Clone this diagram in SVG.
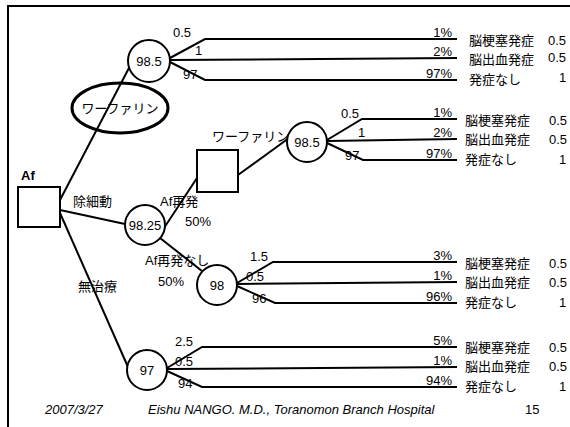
<svg xmlns="http://www.w3.org/2000/svg" width="570" height="427" viewBox="0 0 570 427">
<style>
.ln{stroke:#000;stroke-width:2;fill:none}
.nd{stroke:#000;stroke-width:2;fill:#fff}
.t{font-family:"Liberation Sans","Noto Sans CJK JP",sans-serif;font-size:13px;fill:#000}
.j{font-family:"Noto Sans CJK JP",sans-serif;font-size:13px;fill:#000}
.pc{text-anchor:end}
.ft{font-family:"Liberation Sans",sans-serif;font-style:italic;font-size:13px;fill:#000}
</style>
<rect width="570" height="427" fill="#fff"/>
<path d="M8,430 V6 H575" class="ln" stroke-width="2"/>
<g id="connectors">
<line class="ln" x1="60" y1="200" x2="130" y2="66"/>
<line class="ln" x1="60" y1="210" x2="125" y2="224"/>
<line class="ln" x1="60" y1="213" x2="128" y2="367"/>
<polyline class="ln" points="170,58 205,39 457,39"/>
<polyline class="ln" points="170,60 457,58"/>
<polyline class="ln" points="170,62 205,80 457,80"/>
<line class="ln" x1="164" y1="228" x2="197" y2="178"/>
<line class="ln" x1="238" y1="175" x2="289" y2="138"/>
<polyline class="ln" points="327,140 362,119 457,119"/>
<polyline class="ln" points="327,141 457,139"/>
<polyline class="ln" points="327,143 363,160 457,160"/>
<line class="ln" x1="160" y1="238" x2="202" y2="271"/>
<polyline class="ln" points="237,283 273,262 457,262"/>
<polyline class="ln" points="237,284 457,282"/>
<polyline class="ln" points="237,286 275,303 457,303"/>
<polyline class="ln" points="167,368 202,347 457,347"/>
<polyline class="ln" points="167,369 457,367"/>
<polyline class="ln" points="167,371 202,387 457,387"/>
</g>
<g id="af">
<rect class="nd" x="18" y="187" width="42" height="40"/>
<text class="t" x="21" y="180" font-weight="bold">Af</text>
</g>
<g id="warfarin-label">
<ellipse cx="120" cy="108" rx="48" ry="25" fill="none" stroke="#000" stroke-width="3"/>
<text class="j" x="120" y="113" text-anchor="middle" font-size="14">ワーファリン</text>
</g>
<g id="n1">
<circle class="nd" cx="149" cy="61" r="21"/>
<text class="t" x="149" y="66" text-anchor="middle">98.5</text>
</g>
<g id="n2">
<circle class="nd" cx="145" cy="225" r="20"/>
<text class="t" x="145" y="230" text-anchor="middle">98.25</text>
</g>
<g id="n3">
<rect class="nd" x="197" y="150" width="41" height="42"/>
</g>
<g id="n4">
<circle class="nd" cx="307" cy="142" r="20"/>
<text class="t" x="307" y="147" text-anchor="middle">98.5</text>
</g>
<g id="n5">
<circle class="nd" cx="217" cy="285" r="20"/>
<text class="t" x="217" y="290" text-anchor="middle">98</text>
</g>
<g id="n6">
<circle class="nd" cx="147" cy="370" r="20"/>
<text class="t" x="147" y="375" text-anchor="middle">97</text>
</g>
<g id="labels">
<text class="j" x="73" y="206">除細動</text>
<text class="j" x="78" y="291">無治療</text>
<text class="j" x="212" y="141">ワーファリン</text>
<text class="t" x="160" y="206">Af再発</text>
<text class="t" x="185" y="226">50%</text>
<text class="t" x="145" y="265">Af再発なし</text>
<text class="t" x="158" y="286">50%</text>
<text class="t" x="173" y="37">0.5</text>
<text class="t" x="195" y="55">1</text>
<text class="t" x="183" y="79">97</text>
<text class="t" x="341" y="118">0.5</text>
<text class="t" x="358" y="137">1</text>
<text class="t" x="345" y="160">97</text>
<text class="t" x="250" y="261">1.5</text>
<text class="t" x="246" y="281">0.5</text>
<text class="t" x="252" y="303">96</text>
<text class="t" x="175" y="346">2.5</text>
<text class="t" x="175" y="366">0.5</text>
<text class="t" x="178" y="388">94</text>
</g>
<g id="pcts">
<text class="t pc" x="452" y="37">1%</text>
<text class="t pc" x="452" y="56">2%</text>
<text class="t pc" x="452" y="78">97%</text>
<text class="t pc" x="452" y="117">1%</text>
<text class="t pc" x="452" y="137">2%</text>
<text class="t pc" x="452" y="158">97%</text>
<text class="t pc" x="452" y="260">3%</text>
<text class="t pc" x="452" y="280">1%</text>
<text class="t pc" x="452" y="301">96%</text>
<text class="t pc" x="452" y="345">5%</text>
<text class="t pc" x="452" y="365">1%</text>
<text class="t pc" x="452" y="385">94%</text>
</g>
<g id="outcomes">
<text class="j" x="469" y="45">脳梗塞発症</text><text class="t" x="548" y="45">0.5</text>
<text class="j" x="469" y="64">脳出血発症</text><text class="t" x="548" y="62">0.5</text>
<text class="j" x="469" y="84">発症なし</text><text class="t" x="559" y="82">1</text>
<text class="j" x="465" y="125">脳梗塞発症</text><text class="t" x="549" y="125">0.5</text>
<text class="j" x="465" y="144">脳出血発症</text><text class="t" x="549" y="144">0.5</text>
<text class="j" x="465" y="164">発症なし</text><text class="t" x="559" y="164">1</text>
<text class="j" x="465" y="268">脳梗塞発症</text><text class="t" x="549" y="268">0.5</text>
<text class="j" x="465" y="287">脳出血発症</text><text class="t" x="549" y="287">0.5</text>
<text class="j" x="465" y="307">発症なし</text><text class="t" x="559" y="307">1</text>
<text class="j" x="465" y="352">脳梗塞発症</text><text class="t" x="549" y="352">0.5</text>
<text class="j" x="465" y="371">脳出血発症</text><text class="t" x="549" y="371">0.5</text>
<text class="j" x="465" y="391">発症なし</text><text class="t" x="559" y="391">1</text>
</g>
<g id="footer">
<text class="ft" x="45" y="414" font-size="12">2007/3/27</text>
<text class="ft" x="148" y="414">Eishu NANGO. M.D., Toranomon Branch Hospital</text>
<text class="t" x="525" y="414" font-size="12">15</text>
</g>
</svg>
